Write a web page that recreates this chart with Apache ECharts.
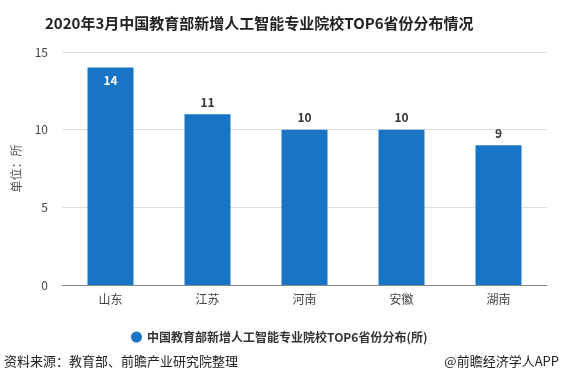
<!DOCTYPE html>
<html><head><meta charset="utf-8">
<script src="https://cdn.jsdelivr.net/npm/echarts@6/dist/echarts.min.js"></script>
<style>html,body{margin:0;padding:0;background:#fff}#c{width:561px;height:384px}</style>
</head><body><div id="c"></div>
<script>
const categories = ['山东','江苏','河南','安徽','湖南'];
const values = [14, 11, 10, 10, 9];
const yTicks = [0, 5, 10, 15];
const seriesName = '中国教育部新增人工智能专业院校TOP6省份分布(所)';
const titleText = '2020年3月中国教育部新增人工智能专业院校TOP6省份分布情况';
const sourceText = '资料来源：教育部、前瞻产业研究院整理';
const brandText = '@前瞻经济学人APP';

const font = '"Microsoft YaHei","Noto Sans CJK SC",sans-serif';
const chart = echarts.init(document.getElementById('c'));
chart.setOption({
  animation: false,
  textStyle: {fontFamily: font},
  title: {text: titleText, left: 40, top: 11,
    textStyle: {fontSize: 15, fontWeight: 'bold', color: '#222', fontFamily: font}},
  legend: {data: [seriesName], left: 126, top: 326, icon: 'circle', itemWidth: 11, itemHeight: 11, itemGap: 6,
    textStyle: {fontSize: 12, fontWeight: 'bold', color: '#333'}},
  graphic: [
    {type: 'text', left: 4, top: 355, style: {text: sourceText, fill: '#222', font: '13px ' + font}},
    {type: 'text', right: 2, top: 355, style: {text: brandText, fill: '#222', font: '13px ' + font}}
  ],
  grid: {left: 62, right: 14, top: 52, bottom: 99, containLabel: false},
  xAxis: {type: 'category', data: categories,
    axisLine: {lineStyle: {color: '#888'}},
    axisTick: {alignWithLabel: true, lineStyle: {color: '#888'}},
    axisLabel: {color: '#444', fontSize: 12, margin: 8}},
  yAxis: {type: 'value', min: yTicks[0], max: yTicks[yTicks.length-1], interval: 5,
    name: '单位：所', nameLocation: 'middle', nameGap: 40, nameRotate: 90,
    nameTextStyle: {color: '#555', fontSize: 12},
    axisLine: {show: false}, axisTick: {show: false},
    axisLabel: {color: '#444', fontSize: 12, margin: 14},
    splitLine: {lineStyle: {color: '#ddd'}}},
  series: [{
    name: seriesName, type: 'bar', data: values.map((v, i) => i === 0 ? {value: v, label: {position: 'insideTop', color: '#fff', distance: 7}} : v),
    barWidth: 46,
    itemStyle: {color: '#1874c5'},
    label: {show: true, position: 'top', fontSize: 12, fontWeight: 'bold', color: '#333', distance: 6},
  }]
});
</script></body></html>
